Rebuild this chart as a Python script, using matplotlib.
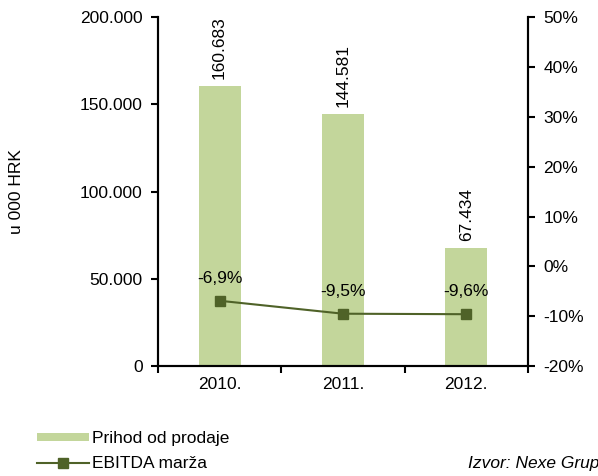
import matplotlib
matplotlib.use("Agg")
import matplotlib.pyplot as plt
from matplotlib.lines import Line2D
from matplotlib.patches import Patch
import numpy as np

plt.rcParams['font.family'] = ['Liberation Sans', 'DejaVu Sans']

years = ["2010.", "2011.", "2012."]
revenue = [160683, 144581, 67434]
revenue_labels = ["160.683", "144.581", "67.434"]
ebitda = [-6.9, -9.5, -9.6]
ebitda_labels = ["-6,9%", "-9,5%", "-9,6%"]

bar_color = "#c3d69b"
line_color = "#4f6228"
fs = 12.5

fig = plt.figure(figsize=(5.98, 4.76), dpi=100)
ax = fig.add_axes([0.264, 0.231, 0.619, 0.733])
ax2 = ax.twinx()

x = np.arange(len(years))
ax.bar(x, revenue, width=0.34, color=bar_color, zorder=2)
for xi, v, lab in zip(x, revenue, revenue_labels):
    ax.text(xi, v + 4000, lab, rotation=90, ha="center", va="bottom", fontsize=fs)

ax.set_xlim(-0.5, 2.5)
ax.set_ylim(0, 200000)
ax.set_yticks(np.arange(0, 200001, 50000))
ax.set_yticklabels(["0", "50.000", "100.000", "150.000", "200.000"])
ax.set_xticks([-0.5, 0.5, 1.5, 2.5], minor=False)
ax.set_xticklabels([])
ax.set_xticks(x, minor=True)
ax.set_xticklabels(years, minor=True)
ax.tick_params(axis="x", which="minor", length=0, labelsize=fs, pad=8)
ax.tick_params(axis="x", which="major", length=5, width=1.5, direction="out")
ax.tick_params(axis="y", length=5, width=1.5, direction="out", labelsize=fs, pad=6)
ax.set_ylabel("u 000 HRK", fontsize=fs)
ax.yaxis.set_label_coords(-0.362, 0.5)

ax2.plot(x, ebitda, color=line_color, marker="s", markersize=7, lw=1.5, zorder=3)
for xi, v, lab in zip(x, ebitda, ebitda_labels):
    ax2.text(xi, v + 3.0, lab, ha="center", va="bottom", fontsize=fs)
ax2.set_ylim(-20, 50)
ax2.set_yticks(np.arange(-20, 51, 10))
ax2.set_yticklabels([f"{t}%" for t in range(-20, 51, 10)])
ax2.tick_params(axis="y", length=5, width=1.5, direction="out", labelsize=fs, pad=6)

for a in (ax, ax2):
    a.spines["top"].set_visible(False)
    for s in ("left", "right", "bottom"):
        a.spines[s].set_linewidth(1.5)

handles = [
    Patch(facecolor=bar_color, edgecolor="none"),
    Line2D([0], [0], color=line_color, marker="s", markersize=7, lw=1.5),
]
fig.legend(handles, ["Prihod od prodaje", "EBITDA marža"], loc="lower left",
           bbox_to_anchor=(0.035, -0.022), frameon=False, fontsize=fs,
           handlelength=3.0, handleheight=0.4, handletextpad=0.2, labelspacing=0.55)

# source note runs off the right edge, as in the original
fig.text(0.783, 0.01, "Izvor: Nexe Grupa", style="italic", fontsize=fs, ha="left", va="bottom")

fig.savefig("out.png", dpi=100)
